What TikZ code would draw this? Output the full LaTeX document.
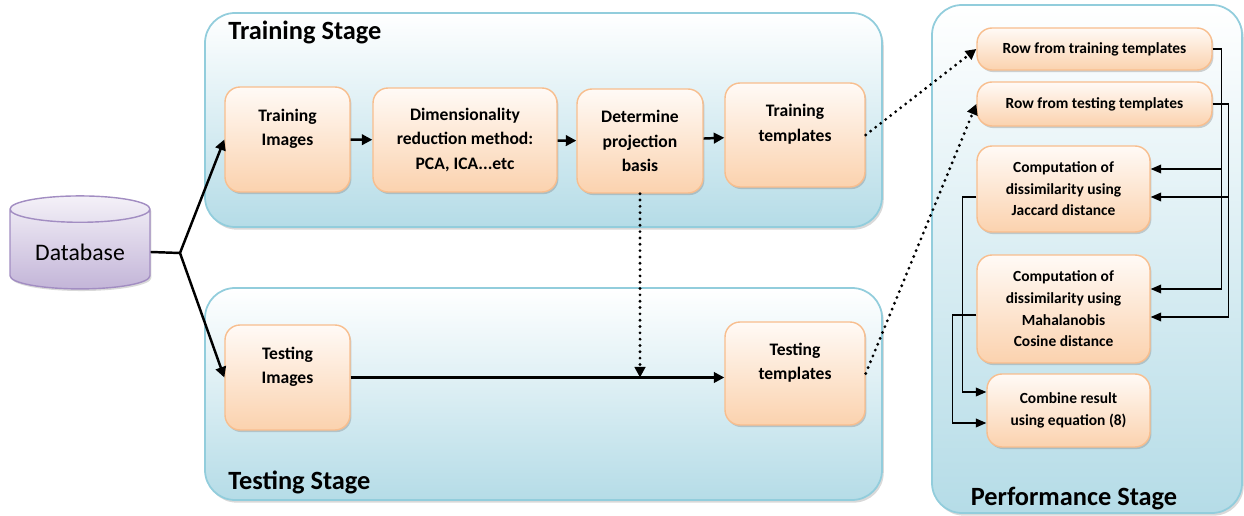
\documentclass[tikz,border=0pt]{standalone}
\usepackage{fontspec}
\setmainfont{Carlito}
\usetikzlibrary{arrows.meta,shapes.geometric,shadows}
\definecolor{stageblue}{HTML}{B5DCE7}
\definecolor{stageline}{HTML}{92CDDC}
\definecolor{boxtop}{HTML}{FFFAF6}
\definecolor{boxbot}{HTML}{FBD2AE}
\definecolor{boxline}{HTML}{F8BE8E}
\definecolor{dbtop}{HTML}{F4F1F8}
\definecolor{dbbot}{HTML}{C3B5D8}
\definecolor{dbline}{HTML}{A28DC2}

\begin{document}
\begin{tikzpicture}[x=0.02cm,y=-0.02cm,
	stage/.style={draw=stageline,line width=1pt,rounded corners=0.6cm,top color=white,bottom color=stageblue,
		drop shadow={opacity=0.3,shadow xshift=1pt,shadow yshift=-1.5pt}},
	stagetitle/.style={inner sep=0pt,font=\fontsize{15}{18}\selectfont\bfseries},
	box/.style={draw=boxline,line width=0.8pt,rounded corners=0.3cm,top color=boxtop,bottom color=boxbot,
		align=center,inner sep=2pt,font=\fontsize{10}{14}\selectfont\bfseries,
		drop shadow={opacity=0.35,shadow xshift=0.8pt,shadow yshift=-1.2pt}},
	pbox/.style={box,font=\fontsize{8.8}{12.3}\selectfont\bfseries},
	db/.style={cylinder,shape border rotate=90,aspect=0.26,draw=dbline,line width=0.8pt,
		top color=dbtop,bottom color=dbbot,minimum width=2.8cm,minimum height=1.86cm,
		font=\fontsize{13.5}{16}\selectfont,drop shadow={opacity=0.3,shadow xshift=0.8pt,shadow yshift=-1.2pt}},
	flow/.style={line width=1.4pt,-{Triangle[length=6pt,width=6pt]}},
	dotflow/.style={line width=1.8pt,dash pattern=on 0pt off 3.6pt,line cap=round,-{Triangle[length=6pt,width=6pt]}},
	link/.style={line width=0.8pt,-{Triangle[length=6pt,width=5pt]}}]

	\useasboundingbox (0,0) rectangle (1244,516);

	\draw [stage] (205,13) rectangle (882,227);
	\draw [stage] (205,288) rectangle (882,500);
	\draw [stage] (932,5) rectangle (1242,513);

	\node [stagetitle,anchor=base west] (trtitle) at (228,40) {Training Stage};
	\node [stagetitle,anchor=base west] (tetitle) at (228,490) {Testing Stage};
	\node [stagetitle,anchor=base] (pftitle) at (1074,506) {Performance Stage};

	\node [db] (db) at (80,252) {Database};
	\coordinate (jn) at (180,253);

	\node [box,minimum width=2.5cm,minimum height=2.1cm] (trimg) at (287.5,139.5) {Training\\Images\\\mbox{}};
	\node [box,minimum width=3.68cm,minimum height=2.08cm] (dimred) at (465,140) {Dimensionality\\reduction method:\\PCA, ICA...etc};
	\node [box,minimum width=2.52cm,minimum height=2.08cm] (basis) at (640,141) {Determine\\projection\\basis};
	\node [box,minimum width=2.8cm,minimum height=2.08cm] (trtpl) at (795,135) {Training\\templates\\\mbox{}};

	\node [box,minimum width=2.5cm,minimum height=2.1cm] (teimg) at (287.5,377.5) {Testing\\Images\\\mbox{}};
	\node [box,minimum width=2.8cm,minimum height=2.06cm] (tetpl) at (795,373.5) {Testing\\templates\\\mbox{}};

	\node [pbox,minimum width=4.7cm,minimum height=0.84cm] (rowtr) at (1094.5,49) {Row from training templates};
	\node [pbox,minimum width=4.7cm,minimum height=0.88cm] (rowte) at (1094.5,104) {Row from testing templates};
	\node [pbox,minimum width=3.46cm,minimum height=1.72cm] (jac) at (1063.5,189) {Computation of\\dissimilarity using\\Jaccard distance};
	\node [pbox,minimum width=3.46cm,minimum height=2.16cm] (mah) at (1063.5,309) {Computation of\\dissimilarity using\\Mahalanobis\\Cosine distance};
	\node [pbox,minimum width=3.26cm,minimum height=1.46cm] (comb) at (1068.5,410.5) {Combine result\\using equation (8)};

	\draw [line width=1.4pt] (db.east) -- (jn);
	\draw [flow] (jn) -- (trimg.west);
	\draw [flow] (jn) -- (teimg.west);

	\draw [flow] (trimg) -- (dimred);
	\draw [flow] (dimred) -- (basis);
	\draw [flow] (basis) -- (trtpl);
	\draw [flow] (teimg.east) -- (teimg.east -| tetpl.west);
	\draw [dotflow] (basis.south) -- (basis.south |- teimg.east);

	\draw [dotflow] (trtpl.east) -- (rowtr.west);
	\draw [dotflow] (tetpl.east) -- (rowte.west);

	\draw [link] (rowtr.east) -- ++(9,0) |- ([yshift=0.4cm]mah.east);
	\draw [link] ([xshift=0.18cm]rowtr.east) |- ([yshift=0.4cm]jac.east);
	\draw [link] (rowte.east) -- ++(16,0) |- ([yshift=-0.16cm]mah.east);
	\draw [link] ([xshift=0.32cm]rowte.east) |- ([yshift=-0.16cm]jac.east);

	\draw [link] ([yshift=-0.16cm]jac.west) -- ++(-14,0) |- ([yshift=0.37cm]comb.west);
	\draw [link] ([yshift=-0.12cm]mah.west) -- ++(-24,0) |- ([yshift=-0.25cm]comb.west);

\end{tikzpicture}
\end{document}
